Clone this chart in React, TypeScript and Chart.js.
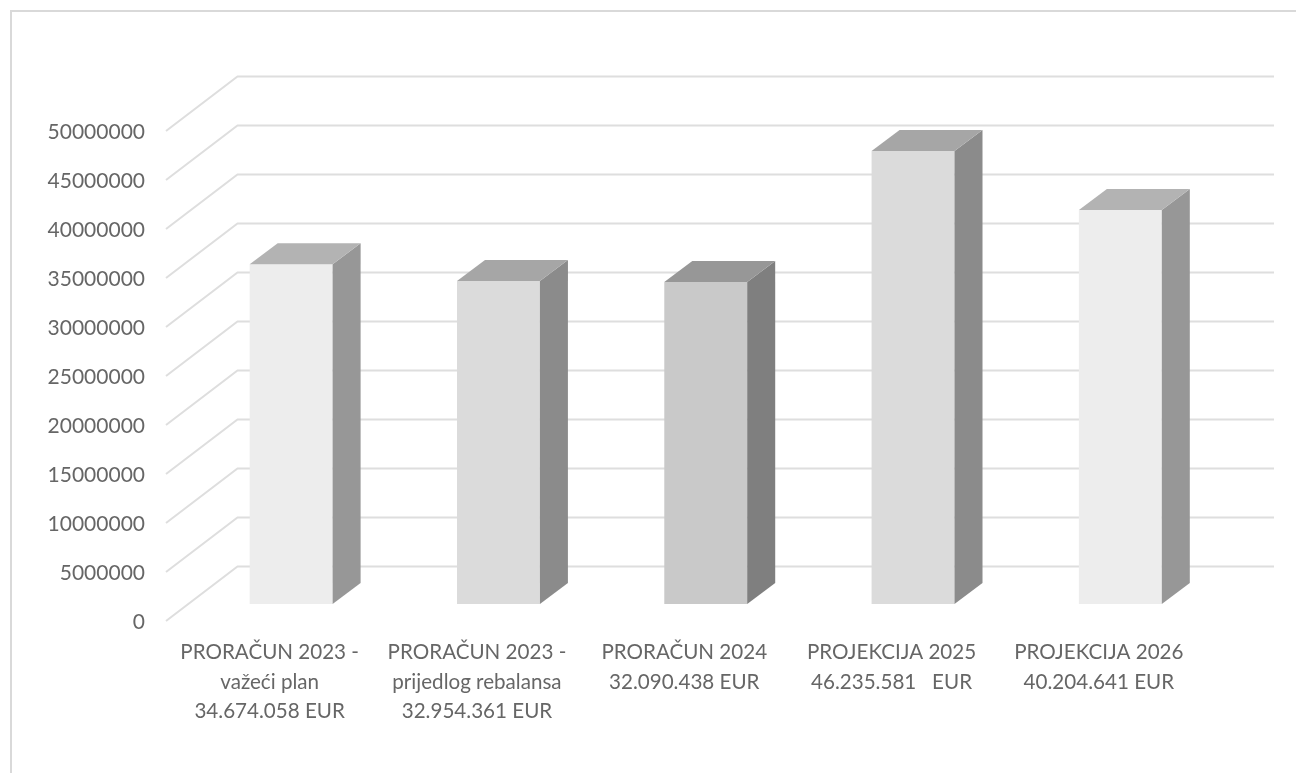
import React, { useEffect, useRef } from "react";
import { Chart, registerables } from "chart.js";

Chart.register(...registerables);

const categories: string[][] = [
  ["PRORAČUN 2023 -", "važeći plan", "34.674.058 EUR"],
  ["PRORAČUN 2023 -", "prijedlog rebalansa", "32.954.361 EUR"],
  ["PRORAČUN 2024", "32.090.438 EUR"],
  ["PROJEKCIJA 2025", "46.235.581   EUR"],
  ["PROJEKCIJA 2026", "40.204.641 EUR"],
];
const values: number[] = [34674058, 32954361, 32860000, 46235581, 40204641];
const frontColors = ["#EDEDED", "#DBDBDB", "#C9C9C9", "#DBDBDB", "#EDEDED"];
const topColors = ["#B3B3B3", "#A6A6A6", "#979797", "#A6A6A6", "#B3B3B3"];
const sideColors = ["#979797", "#8B8B8B", "#7F7F7F", "#8B8B8B", "#979797"];

const GRID = "#DEDEDE";
const TEXT = "#666666";
const LABEL_NUDGE = 1.5;
const WALL_DX = 71.5;
const WALL_DY = -54.5;
const BAR_SHIFT_X = 21.5;
const BAR_SHIFT_Y = -18.5;
const BAR_DX = 28;
const BAR_DY = -21;

const poly = (ctx: CanvasRenderingContext2D, pts: number[][], color: string) => {
  ctx.fillStyle = color;
  ctx.beginPath();
  pts.forEach(([x, y], i) => (i ? ctx.lineTo(x, y) : ctx.moveTo(x, y)));
  ctx.closePath();
  ctx.fill();
};

const frame3d = {
  id: "frame3d",
  beforeDraw(chart: any) {
    const { ctx, width, height } = chart;
    ctx.save();
    ctx.strokeStyle = "#D9D9D9";
    ctx.lineWidth = 2;
    ctx.beginPath();
    ctx.moveTo(11, height);
    ctx.lineTo(11, 11);
    ctx.lineTo(width, 11);
    ctx.stroke();
    ctx.restore();
  },
  beforeDatasetsDraw(chart: any) {
    const { ctx, chartArea, scales } = chart;
    ctx.save();
    ctx.strokeStyle = GRID;
    ctx.lineWidth = 2;
    scales.y.ticks.forEach((t: any) => {
      const y = scales.y.getPixelForValue(t.value) - LABEL_NUDGE;
      ctx.beginPath();
      ctx.moveTo(chartArea.left, y);
      ctx.lineTo(chartArea.left + WALL_DX, y + WALL_DY);
      ctx.lineTo(chartArea.right + WALL_DX, y + WALL_DY);
      ctx.stroke();
    });
    ctx.restore();
    ctx.save();
    ctx.translate(BAR_SHIFT_X, BAR_SHIFT_Y);
  },
  afterDatasetsDraw(chart: any) {
    const { ctx } = chart;
    chart.getDatasetMeta(0).data.forEach((bar: any, i: number) => {
      const l = bar.x - bar.width / 2;
      const r = bar.x + bar.width / 2;
      const t = bar.y;
      const b = bar.base;
      poly(ctx, [[r, t], [r + BAR_DX, t + BAR_DY], [r + BAR_DX, b + BAR_DY], [r, b]], sideColors[i]);
      poly(ctx, [[l, t], [l + BAR_DX, t + BAR_DY], [r + BAR_DX, t + BAR_DY], [r, t]], topColors[i]);
    });
    ctx.restore();
  },
};

export default function App() {
  const ref = useRef<HTMLCanvasElement>(null);
  useEffect(() => {
    const chart = new Chart(ref.current as HTMLCanvasElement, {
      type: "bar",
      data: {
        labels: categories as any,
        datasets: [
          {
            data: values,
            backgroundColor: frontColors,
            barPercentage: 0.4,
            categoryPercentage: 1,
            clip: false as any,
          },
        ],
      },
      plugins: [frame3d as any],
      options: {
        responsive: false,
        animation: false,
        layout: { padding: { left: 0, top: 132.5, right: 93.5, bottom: 0 } },
        plugins: { legend: { display: false }, title: { display: false }, tooltip: { enabled: false } },
        scales: {
          x: {
            grid: { display: false, drawTicks: false },
            border: { display: false },
            afterFit: (s: any) => {
              s.height = 150.5;
            },
            ticks: {
              autoSkip: false,
              maxRotation: 0,
              minRotation: 0,
              padding: 15.5,
              color: TEXT,
              font: { family: "Lato", size: 20.6, lineHeight: 1.43 },
            },
          },
          y: {
            min: 0,
            max: 50000000,
            grid: { display: false, drawTicks: false },
            border: { display: false },
            afterFit: (s: any) => {
              s.width = 166;
            },
            ticks: {
              stepSize: 5000000,
              padding: 21,
              color: TEXT,
              font: { family: "Lato", size: 21 },
              callback: (v: any) => String(v),
            },
          },
        },
      },
    });
    return () => chart.destroy();
  }, []);
  return (
    <canvas
      ref={ref}
      width={1296}
      height={773}
      style={{ position: "fixed", left: 0, top: 0, display: "block", background: "#fff" }}
    />
  );
}
